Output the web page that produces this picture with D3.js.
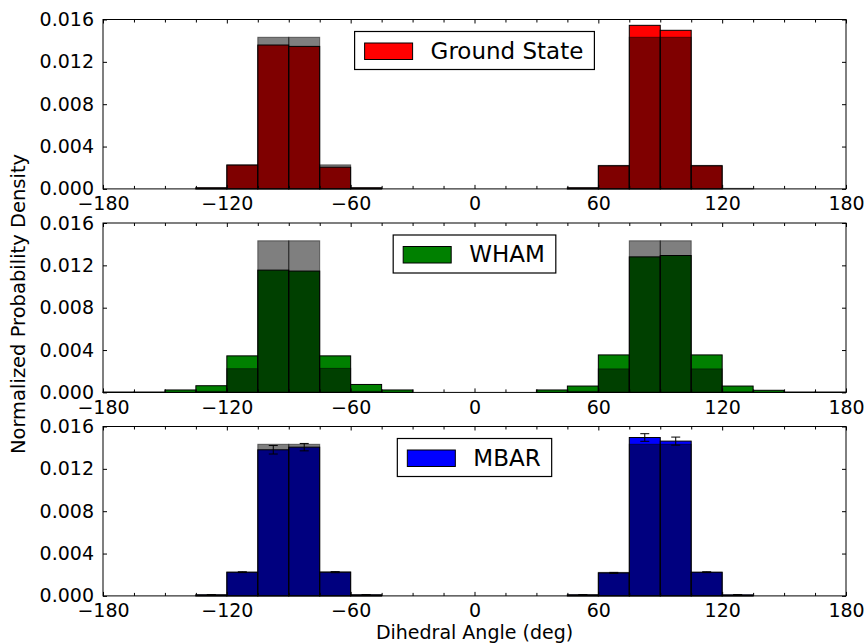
<!DOCTYPE html>
<html>
<head>
<meta charset="utf-8">
<script src="https://cdn.jsdelivr.net/npm/d3@7"></script>
<style>
  body { margin: 0; background: #fff; }
  svg { display: block; font-family: "DejaVu Sans", sans-serif; }
</style>
</head>
<body>
<div id="chart"></div>
<script>
// 15 degree bins, lower edges
const binStarts = [-180, -165, -150, -135, -120, -105, -90, -75, -60, -45, -30, -15,
                   0, 15, 30, 45, 60, 75, 90, 105, 120, 135, 150, 165];
const binWidth = 15;

// reference histogram (drawn as translucent black on top of each panel)
const reference = [0, 0, 0, 0.0001, 0.00224, 0.01432, 0.01432, 0.00227, 0.0001, 0, 0, 0,
                   0, 0, 0, 0.0001, 0.00222, 0.01432, 0.01432, 0.00222, 0.00005, 0, 0, 0];

const groundState = [0, 0, 0, 0.0001, 0.00226, 0.01359, 0.01346, 0.00205, 0.0001, 0, 0, 0,
                     0, 0, 0, 0.0001, 0.00218, 0.01545, 0.01498, 0.00218, 0, 0, 0, 0];

const wham = [0.00003, 0.00003, 0.00023, 0.00063, 0.00345, 0.01155, 0.01146, 0.00345, 0.00075, 0.00023, 0, 0,
              0, 0, 0.00023, 0.0006, 0.00354, 0.0128, 0.01293, 0.00354, 0.0006, 0.0002, 0.00003, 0.00003];

const mbar = [0, 0, 0, 0.0001, 0.00224, 0.0138, 0.01405, 0.00224, 0.0001, 0, 0, 0,
              0, 0, 0, 0.0001, 0.00217, 0.01496, 0.01462, 0.00224, 0.0001, 0, 0, 0];
const mbarErr = [0, 0, 0, 0.00002, 0.00004, 0.0004, 0.00035, 0.00005, 0.00002, 0, 0, 0,
                 0, 0, 0, 0.00002, 0.00005, 0.00036, 0.00038, 0.00004, 0.00002, 0, 0, 0];

const seriesNames = ['Ground State', 'WHAM', 'MBAR'];
const seriesColors = ['#ff0000', '#008000', '#0000ff'];

const xMajorTicks = [-180, -120, -60, 0, 60, 120, 180];
const xMinorTicks = [-165, -150, -135, -105, -90, -75, -45, -30, -15, 15, 30, 45, 75, 90, 105, 135, 150, 165];
const yTicks = [0, 0.004, 0.008, 0.012, 0.016];

const panels = [
  { name: seriesNames[0], values: groundState, color: seriesColors[0], err: null },
  { name: seriesNames[1], values: wham, color: seriesColors[1], err: null },
  { name: seriesNames[2], values: mbar, color: seriesColors[2], err: mbarErr }
];

const W = 864, H = 644;
const left = 103, right = 846;
const panelTops = [19.5, 223, 426.5];
const panelH = 169.4;

const svg = d3.select('#chart').append('svg')
  .attr('width', W)
  .attr('height', H);

const x = d3.scaleLinear().domain([-180, 180]).range([left, right]);

panels.forEach((p, i) => {
  const top = panelTops[i];
  const y = d3.scaleLinear().domain([0, 0.016]).range([top + panelH, top]);
  const g = svg.append('g');

  // coloured histogram
  g.selectAll('.bar')
    .data(p.values)
    .enter()
    .append('rect')
    .attr('x', (d, k) => x(binStarts[k]))
    .attr('y', d => y(d))
    .attr('width', (d, k) => x(binStarts[k] + binWidth) - x(binStarts[k]))
    .attr('height', d => y(0) - y(d))
    .style('fill', p.color)
    .style('stroke', '#000')
    .style('stroke-width', 1);

  // reference histogram, black at half alpha
  g.selectAll('.ref')
    .data(reference)
    .enter()
    .append('rect')
    .attr('x', (d, k) => x(binStarts[k]))
    .attr('y', d => y(d))
    .attr('width', (d, k) => x(binStarts[k] + binWidth) - x(binStarts[k]))
    .attr('height', d => y(0) - y(d))
    .style('fill', 'rgba(0,0,0,0.5)')
    .style('stroke', 'rgba(0,0,0,0.5)')
    .style('stroke-width', 1);

  // error bars
  if (p.err) {
    p.values.forEach((v, k) => {
      const e = p.err[k];
      if (!e) return;
      const cx = x(binStarts[k] + binWidth / 2);
      g.append('line')
        .attr('x1', cx).attr('x2', cx)
        .attr('y1', y(v - e)).attr('y2', y(v + e))
        .style('stroke', '#000').style('stroke-width', 1);
      [v - e, v + e].forEach(c => {
        g.append('line')
          .attr('x1', cx - 4.5).attr('x2', cx + 4.5)
          .attr('y1', y(c)).attr('y2', y(c))
          .style('stroke', '#000').style('stroke-width', 1);
      });
    });
  }

  // frame
  g.append('rect')
    .attr('x', left).attr('y', top)
    .attr('width', right - left).attr('height', panelH)
    .style('fill', 'none')
    .style('stroke', '#000')
    .style('stroke-width', 1);

  // x axis: major with labels, minor ticks, plus mirrored ticks on top
  g.append('g')
    .attr('transform', `translate(0,${top + panelH})`)
    .call(d3.axisBottom(x).tickValues(xMajorTicks).tickSize(-4).tickPadding(8)
      .tickFormat(d => d3.format('d')(d).replace('-', '\u2212')));
  g.append('g')
    .attr('transform', `translate(0,${top + panelH})`)
    .call(d3.axisBottom(x).tickValues(xMinorTicks).tickSize(-3).tickFormat(''));
  g.append('g')
    .attr('transform', `translate(0,${top})`)
    .call(d3.axisTop(x).tickValues(xMajorTicks).tickSize(-4).tickFormat(''));
  g.append('g')
    .attr('transform', `translate(0,${top})`)
    .call(d3.axisTop(x).tickValues(xMinorTicks).tickSize(-3).tickFormat(''));

  // y axis left with labels, right mirrored
  g.append('g')
    .attr('transform', `translate(${left},0)`)
    .call(d3.axisLeft(y).tickValues(yTicks).tickSize(-4).tickPadding(9).tickFormat(d3.format('.3f')));
  g.append('g')
    .attr('transform', `translate(${right},0)`)
    .call(d3.axisRight(y).tickValues(yTicks).tickSize(-4).tickFormat(''));

  g.selectAll('.domain').remove();
  g.selectAll('.tick line').style('stroke', '#000').style('stroke-width', 1);
  g.selectAll('.tick text')
    .style('font-family', '"DejaVu Sans", sans-serif')
    .style('font-size', '19px')
    .style('fill', '#000');

  // legend, upper centre
  const leg = g.append('g');
  const legTop = top + 12;
  const legH = 38;
  const box = leg.append('rect')
    .attr('y', legTop)
    .attr('height', legH)
    .style('fill', '#fff')
    .style('stroke', '#000')
    .style('stroke-width', 1.2);
  const sw = leg.append('rect')
    .attr('y', legTop + 11.5)
    .attr('width', 48)
    .attr('height', 16.5)
    .style('fill', p.color)
    .style('stroke', '#000')
    .style('stroke-width', 1);
  const label = leg.append('text')
    .attr('y', legTop + legH / 2)
    .attr('dy', '0.36em')
    .style('font-size', '23px')
    .style('fill', '#000')
    .text(p.name);
  const tw = label.node().getComputedTextLength();
  const boxW = 10 + 48 + 18 + tw + 11;
  const bx = (left + right) / 2 - boxW / 2;
  box.attr('x', bx).attr('width', boxW);
  sw.attr('x', bx + 10);
  label.attr('x', bx + 10 + 48 + 18);
});

// axis titles
svg.append('text')
  .attr('x', (left + right) / 2)
  .attr('y', 638.5)
  .attr('text-anchor', 'middle')
  .style('font-size', '19px')
  .style('fill', '#000')
  .text('Dihedral Angle (deg)');

svg.append('text')
  .attr('transform', 'translate(25,304) rotate(-90)')
  .attr('text-anchor', 'middle')
  .style('font-size', '19.5px')
  .style('fill', '#000')
  .text('Normalized Probability Density');
</script>
</body>
</html>
